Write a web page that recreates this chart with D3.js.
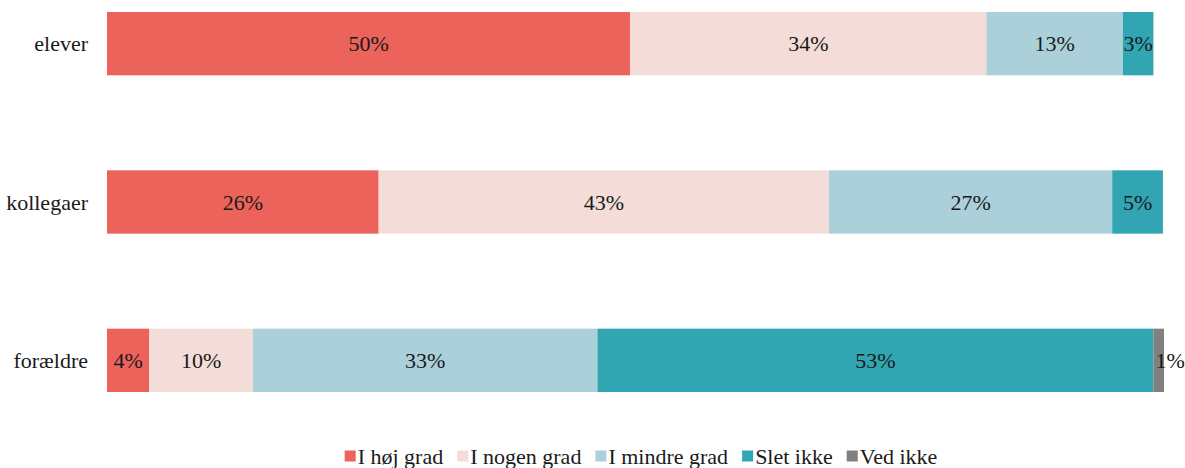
<!DOCTYPE html>
<html>
<head>
<meta charset="utf-8">
<script src="https://cdn.jsdelivr.net/npm/d3@7"></script>
<style>
  body { margin: 0; background: #fff; }
</style>
</head>
<body>
<svg id="SVG_CONTAINER" width="1185" height="468" font-family="'Liberation Serif', 'DejaVu Serif', serif"></svg>
<script>
// data
const categories = ["elever", "kollegaer", "forældre"];
const seriesNames = ["I høj grad", "I nogen grad", "I mindre grad", "Slet ikke", "Ved ikke"];
const hojGrad    = [49.5, 25.7, 4.0];
const nogenGrad  = [33.7, 42.6, 9.8];
const mindreGrad = [12.9, 26.8, 32.6];
const sletIkke   = [2.9, 4.8, 52.6];
const vedIkke    = [0, 0, 1.0];
const colors = ["#EC635B", "#F4DDD8", "#ABD0DA", "#31A5B2", "#808080"];

const width = 1185, height = 468;
const MARGIN = { LEFT: 107, RIGHT: 21, TOP: 12, BOTTOM: 76 };
const FONT = 22;
const TEXT_COLOR = "#1a1a1a";

const svg = d3.select("#SVG_CONTAINER");

let rows = categories.map((c, i) => ({
    cat: c,
    "I høj grad": hojGrad[i],
    "I nogen grad": nogenGrad[i],
    "I mindre grad": mindreGrad[i],
    "Slet ikke": sletIkke[i],
    "Ved ikke": vedIkke[i]
}));

let stacked = d3.stack().keys(seriesNames)(rows);

let xScale = d3.scaleLinear()
    .domain([0, 100])
    .range([MARGIN.LEFT, width - MARGIN.RIGHT]);

let yScale = d3.scaleBand()
    .domain(categories)
    .range([MARGIN.TOP, height - MARGIN.BOTTOM])
    .paddingInner(0.6)
    .paddingOuter(0);

let color = d3.scaleOrdinal().domain(seriesNames).range(colors);

// bars
let layers = svg.append("g").selectAll("g")
    .data(stacked)
    .enter()
    .append("g")
    .attr("fill", d => color(d.key));

layers.selectAll("rect")
    .data(d => d.filter(s => s[1] - s[0] > 0))
    .enter()
    .append("rect")
        .attr("x", d => xScale(d[0]))
        .attr("y", d => yScale(d.data.cat))
        .attr("width", d => xScale(d[1]) - xScale(d[0]))
        .attr("height", yScale.bandwidth());

// value labels
layers.selectAll("text")
    .data(d => d.filter(s => s[1] - s[0] > 0))
    .enter()
    .append("text")
        .attr("x", function(d) {
            let w = xScale(d[1]) - xScale(d[0]);
            if (w < 20) return xScale(d[0]) + 2;
            return (xScale(d[0]) + xScale(d[1])) / 2;
        })
        .attr("text-anchor", function(d) {
            return (xScale(d[1]) - xScale(d[0]) < 20) ? "start" : "middle";
        })
        .attr("y", d => yScale(d.data.cat) + yScale.bandwidth() / 2)
        .attr("dy", "0.35em")
        .attr("fill", TEXT_COLOR)
        .style("font-size", FONT + "px")
        .text(d => Math.round(d[1] - d[0]) + "%");

// category labels
svg.append("g").selectAll("text")
    .data(categories)
    .enter()
    .append("text")
        .attr("x", MARGIN.LEFT - 19)
        .attr("y", d => yScale(d) + yScale.bandwidth() / 2)
        .attr("dy", "0.35em")
        .attr("text-anchor", "end")
        .attr("fill", TEXT_COLOR)
        .style("font-size", FONT + "px")
        .text(d => d);

// legend
let legend = svg.append("g");
let lx = 0;
const GAP = 14;
seriesNames.forEach(function(name) {
    let item = legend.append("g").attr("transform", "translate(" + lx + ",0)");
    item.append("rect")
        .attr("x", 0).attr("y", -5.5)
        .attr("width", 11).attr("height", 11)
        .attr("fill", color(name));
    let t = item.append("text")
        .attr("x", 13)
        .attr("y", 0)
        .attr("dy", "0.35em")
        .attr("fill", TEXT_COLOR)
        .style("font-size", FONT + "px")
        .text(name);
    lx += 13 + t.node().getComputedTextLength() + GAP;
});
lx -= GAP;
legend.attr("transform", "translate(" + (641 - lx / 2) + "," + 456 + ")");
</script>
</body>
</html>
